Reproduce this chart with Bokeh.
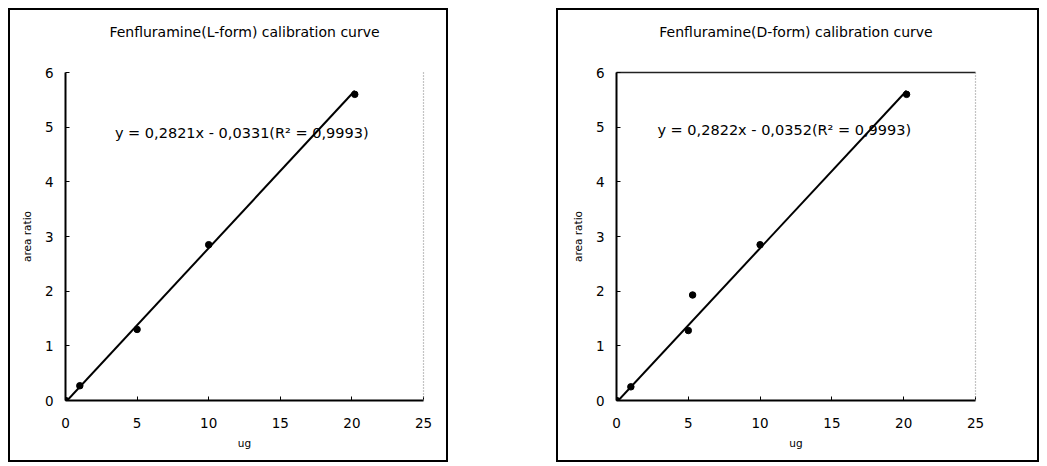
from bokeh.plotting import figure
from bokeh.models import LinearAxis, Range1d, Label, Spacer, FixedTicker
from bokeh.layouts import row, column
from bokeh.embed import file_html
from bokeh.resources import INLINE

# ---- data ----
x_ticks = [0, 5, 10, 15, 20, 25]
y_ticks = [0, 1, 2, 3, 4, 5, 6]

l_ug = [0, 1, 5, 10, 20.2]
l_ratio = [0, 0.27, 1.30, 2.85, 5.60]
d_ug = [0, 1, 5, 5.3, 10, 20.2]
d_ratio = [0, 0.25, 1.28, 1.93, 2.85, 5.60]

l_fit = (0.2821, -0.0331)
d_fit = (0.2822, -0.0352)

titles = ["Fenfluramine(L-form) calibration curve",
          "Fenfluramine(D-form) calibration curve"]
equations = ["y = 0,2821x - 0,0331(R\u00b2 = 0,9993)",
             "y = 0,2822x - 0,0352(R\u00b2 = 0,9993)"]
x_label = "ug"
y_label = "area ratio"

FONT = "DejaVu Sans"


def make_chart(xs, ys, fit, title, eq, width, left, right, bottom,
               eq_pos, top_line):
    p = figure(width=width, height=454, output_backend="svg",
               toolbar_location=None, x_range=Range1d(0, 25),
               y_range=Range1d(0, 6), min_border_left=left,
               min_border_right=right, min_border_top=62,
               min_border_bottom=bottom,
               styles={"border": "2px solid black"})
    p.background_fill_color = "white"
    p.border_fill_color = "white"
    p.outline_line_color = None
    p.xgrid.visible = False
    p.ygrid.visible = False

    p.title.text = title
    p.title.align = "center"
    p.title.text_font = FONT
    p.title.text_font_size = "14px"
    p.title.text_font_style = "normal"
    p.title.text_color = "black"
    p.title.standoff = 0
    p.title.offset = 8

    for ax, ticks in ((p.xaxis[0], x_ticks), (p.yaxis[0], y_ticks)):
        ax.ticker = FixedTicker(ticks=ticks)
        ax.axis_line_color = "black"
        ax.axis_line_width = 2
        ax.major_tick_in = 4
        ax.major_tick_out = 0
        ax.major_tick_line_color = "black"
        ax.minor_tick_line_color = None
        ax.major_label_text_font = FONT
        ax.major_label_text_font_size = "13.5px"
        ax.major_label_text_color = "black"
        ax.axis_label_text_font = FONT
        ax.axis_label_text_font_size = "10.5px"
        ax.axis_label_text_font_style = "normal"
        ax.axis_label_text_color = "black"
    p.xaxis.axis_label = x_label
    p.yaxis.axis_label = y_label
    p.xaxis.major_label_standoff = 17
    p.yaxis.major_label_standoff = 12
    p.xaxis.axis_label_standoff = 6
    p.yaxis.axis_label_standoff = 9

    # frame edges
    r_ax = LinearAxis(ticker=FixedTicker(ticks=[]), axis_line_color="#888888",
                      axis_line_dash="1 2", axis_line_width=1.2,
                      major_label_text_font_size="0px")
    p.add_layout(r_ax, "right")
    t_ax = LinearAxis(ticker=FixedTicker(ticks=[]),
                      axis_line_color="#222222" if top_line else None,
                      axis_line_width=1.5, major_label_text_font_size="0px",
                      axis_label=" ", axis_label_text_font_size="13px",
                      axis_label_standoff=15)
    p.add_layout(t_ax, "above")

    slope, icpt = fit
    x0 = -icpt / slope
    x1 = max(xs)
    p.line([x0, x1], [slope * x0 + icpt, slope * x1 + icpt],
           line_color="black", line_width=2)
    p.scatter(xs, ys, size=6.5, color="black")

    p.add_layout(Label(x=eq_pos[0], y=eq_pos[1], text=eq, text_font=FONT,
                       text_font_size="14.5px", text_baseline="middle",
                       text_color="black"))
    return p


p1 = make_chart(l_ug, l_ratio, l_fit, titles[0], equations[0], 440,
                55, 27, 64, (3.45, 4.9), False)
p2 = make_chart(d_ug, d_ratio, d_fit, titles[1], equations[1], 483,
                58, 66, 58, (2.85, 4.95), True)

layout = column(Spacer(height=8),
                row(Spacer(width=8), p1, Spacer(width=108), p2))
open("out.html", "w").write(file_html(layout, INLINE))
